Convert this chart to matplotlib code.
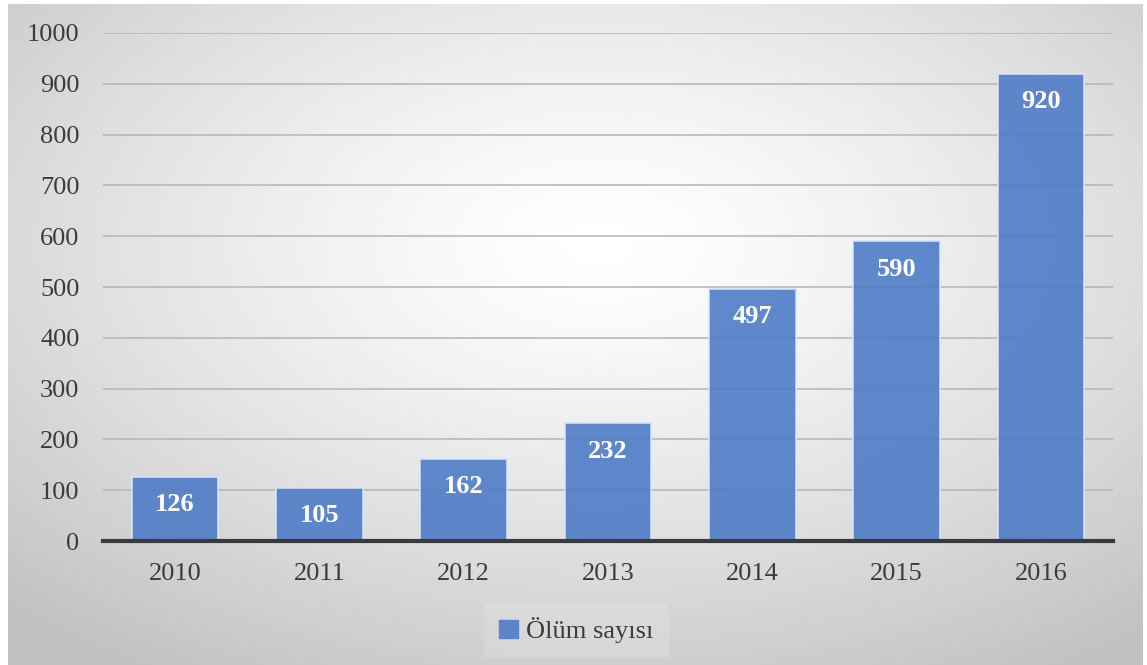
import numpy as np
import matplotlib
matplotlib.use('Agg')
import matplotlib.pyplot as plt
from matplotlib.patches import Rectangle

years = ['2010', '2011', '2012', '2013', '2014', '2015', '2016']
deaths = [126, 105, 162, 232, 497, 590, 920]
series_name = 'Ölüm sayısı'

plt.rcParams['font.family'] = ['Liberation Serif', 'DejaVu Serif']

W, H = 1147, 665
fig = plt.figure(figsize=(W / 100, H / 100), dpi=100)

# radial grey-to-white backdrop inside a framed panel
bg = fig.add_axes([8 / W, 0, (1143 - 8) / W, (H - 4) / H])
yy, xx = np.mgrid[0:200, 0:340]
cx, cy = 0.52 * 340, 0.36 * 200
r = np.sqrt(((xx - cx) / 340) ** 2 + ((yy - cy) / 200) ** 2) / 0.75
r = np.clip(r, 0, 1)
shade = 1.0 - 0.24 * r ** 1.3
bg.imshow(shade, cmap='gray', vmin=0, vmax=1, aspect='auto',
          extent=[0, 1, 0, 1], origin='upper', interpolation='bicubic')
bg.set_xlim(0, 1)
bg.set_ylim(0, 1)
bg.axis('off')

ax = fig.add_axes([103 / W, 1 - 541 / H, (1113 - 103) / W, (541 - 33) / H])
ax.patch.set_alpha(0)
x = np.arange(len(years))
bars = ax.bar(x, deaths, width=0.6, color='#4f7cc8', alpha=0.9,
              edgecolor='#dce6f5', linewidth=1.2, zorder=3)
ax.set_xlim(-0.5, len(years) - 0.5)
ax.set_ylim(0, 1000)
ax.set_yticks(range(0, 1001, 100))
ax.set_xticks(x)
ax.set_xticklabels(years)
ax.yaxis.grid(True, color='#b4b4b4', linewidth=1.1, zorder=1)
ax.set_axisbelow(True)
for s in ['top', 'right', 'left']:
    ax.spines[s].set_visible(False)
ax.spines['bottom'].set_color('#3a3a3a')
ax.spines['bottom'].set_linewidth(3)
ax.spines['bottom'].set_zorder(4)
ax.tick_params(length=0, labelsize=19, colors='#3c3c3c')
ax.tick_params(axis='y', pad=17)
ax.tick_params(axis='x', pad=16)

for b, v in zip(bars, deaths):
    ax.annotate(str(v), (b.get_x() + b.get_width() / 2, v),
                xytext=(0, -28), textcoords='offset pixels',
                ha='center', va='center', color='white',
                fontsize=19, fontweight='bold', zorder=5)

# faint box behind the legend
fig.patches.append(Rectangle((484 / W, 1 - 657 / H), 184 / W, 54 / H,
                             transform=fig.transFigure, facecolor='#f4f4f4',
                             alpha=0.2, edgecolor='#e2e2e2', linewidth=0.6,
                             zorder=1))

leg = fig.legend([Rectangle((0, 0), 1, 1, color='#5b84cc')], [series_name],
                 loc='center', bbox_to_anchor=(576 / W, 1 - 630 / H),
                 frameon=False, fontsize=19, handlelength=0.7,
                 handleheight=0.7, handletextpad=0.3)
for t in leg.get_texts():
    t.set_color('#3c3c3c')

fig.savefig('out.png', dpi=100)
